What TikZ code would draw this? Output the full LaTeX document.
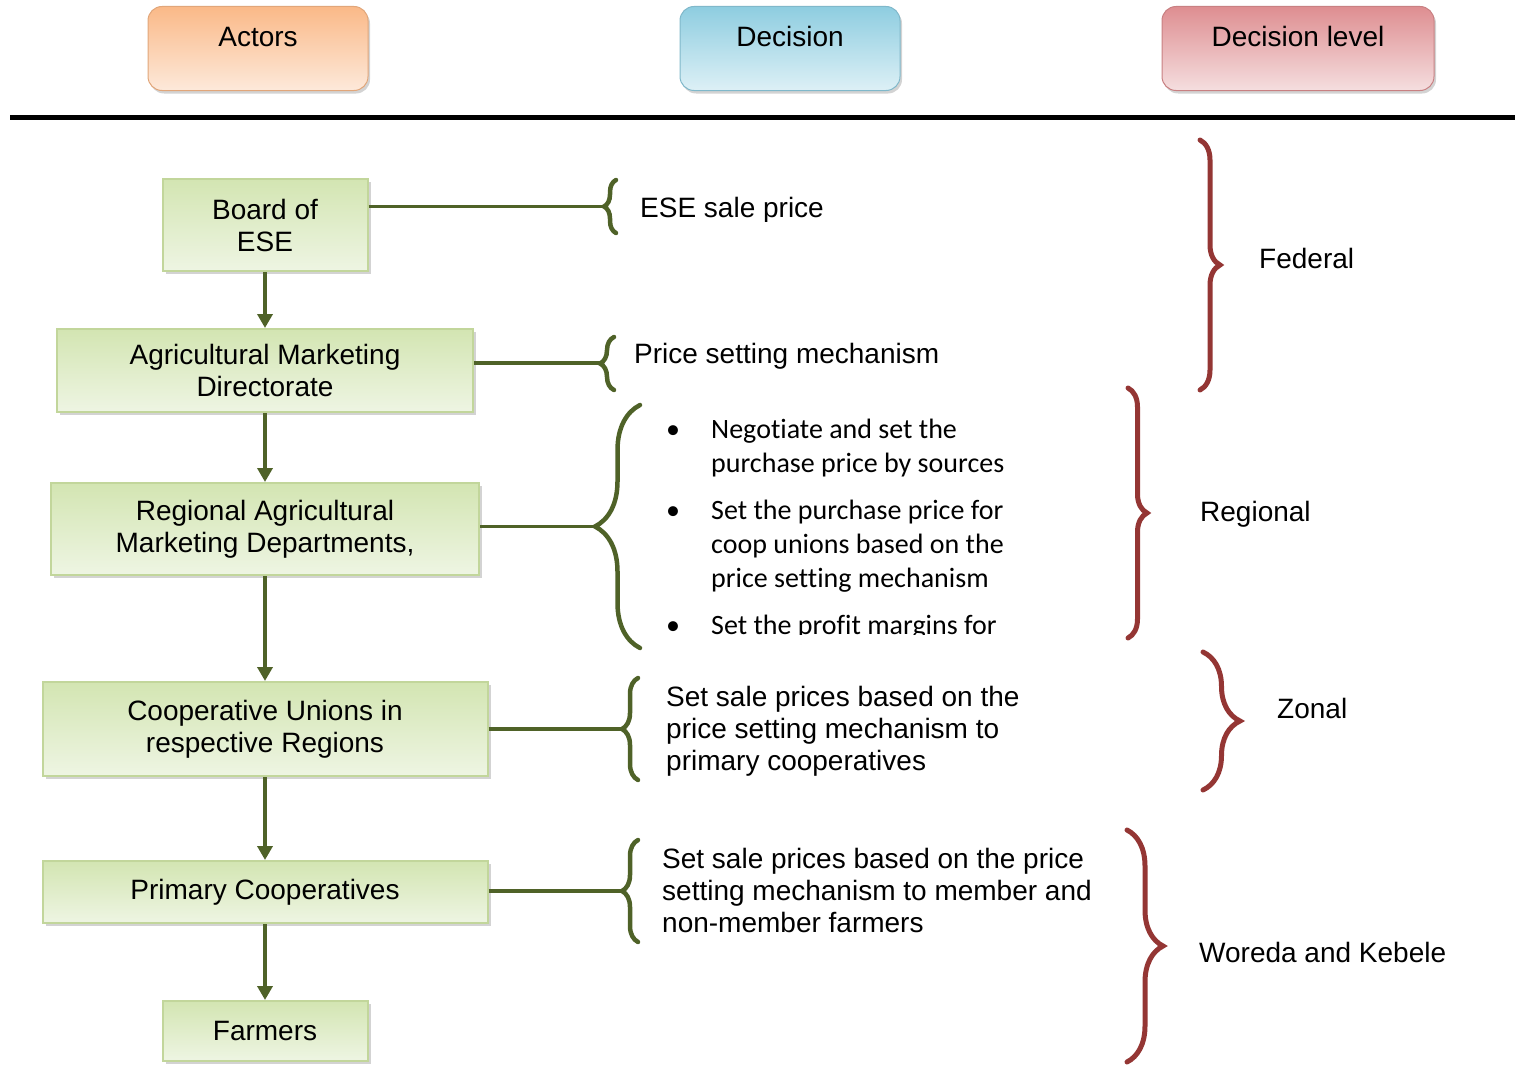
\documentclass[tikz,border=0pt]{standalone}
\usepackage{fontspec}
\setmainfont{Liberation Sans}
\newfontfamily\calfont[Ligatures=NoCommon]{Carlito}
\usetikzlibrary{arrows.meta,decorations.pathreplacing,shadows}
\definecolor{gdark}{HTML}{4F6228}
\definecolor{rdark}{HTML}{943634}
\definecolor{gtop}{HTML}{D3E5B2}
\definecolor{gbot}{HTML}{EEF5E3}
\definecolor{gborder}{HTML}{C2D69B}
\definecolor{otop}{HTML}{FAB988}
\definecolor{obot}{HTML}{FDE9DA}
\definecolor{btop}{HTML}{8ECDE0}
\definecolor{bbot}{HTML}{DDF0F6}
\definecolor{rtop}{HTML}{DE8E91}
\definecolor{rbot}{HTML}{F5DEDF}
\begin{document}
\begin{tikzpicture}[x=1pt,y=1pt,
  txt/.style={font=\fontsize{28}{32}\selectfont, text=black},
  headbox/.style={txt, rounded corners=14pt, draw=#1top!90!black, line width=1pt,
     top color=#1top, bottom color=#1bot, inner xsep=0pt, inner ysep=0pt,
     text height=40pt, text depth=44pt, anchor=north,
     drop shadow={shadow xshift=2pt, shadow yshift=-3pt, opacity=0.35}},
  actor/.style={txt, draw=gborder, line width=2pt, top color=gtop, bottom color=gbot,
     align=center, inner sep=0pt,
     drop shadow={shadow xshift=3pt, shadow yshift=-3pt, opacity=0.35, fill=gray}},
  arr/.style={draw=gdark, line width=3.5pt, -{Triangle[length=14pt,width=15pt]}},
  conn/.style={draw=gdark, line width=3.5pt},
  gbrace/.style={draw=gdark, line width=4.5pt, line cap=round, decorate,
     decoration={brace, amplitude=#1}},
  rbrace/.style={draw=rdark, line width=5pt, line cap=round, decorate,
     decoration={brace, amplitude=#1}},
  plain/.style={txt, anchor=west, inner sep=0pt, align=left}
]
\useasboundingbox (0,0) rectangle (1515,-1065);

% header
\node[headbox=o, minimum width=220pt] (hact) at (258,-6) {Actors};
\node[headbox=b, minimum width=220pt] (hdec) at (790,-6) {Decision};
\node[headbox=r, minimum width=272pt] (hlev) at (1298,-6) {Decision level};
\draw[line width=5pt, black] (10,-117) -- (1515,-117);

% actors
\node[actor, minimum width=205pt, minimum height=92pt] (board) at (265,-225) {Board of\\ESE};
\node[actor, minimum width=416pt, minimum height=83pt] (amd) at (265,-370.5) {Agricultural Marketing\\Directorate};
\node[actor, minimum width=428pt, minimum height=92pt] (ramd) at (265,-529) {Regional Agricultural\\Marketing Departments,};
\node[actor, minimum width=445pt, minimum height=94pt] (cu) at (265,-729) {Cooperative Unions in\\respective Regions};
\node[actor, minimum width=445pt, minimum height=62pt] (pc) at (265,-892) {Primary Cooperatives};
\node[actor, minimum width=205pt, minimum height=60pt] (farm) at (265,-1031) {Farmers};

\draw[arr] (board) -- (amd);
\draw[arr] (amd) -- (ramd);
\draw[arr] (ramd) -- (cu);
\draw[arr] (cu) -- (pc);
\draw[arr] (pc) -- (farm);

% green braces
\coordinate (g1) at (604,-206.5);
\coordinate (g2) at (600,-363);
\coordinate (g3) at (595,-526.5);
\coordinate (g4) at (622,-729);
\coordinate (g5) at (622,-891);
\draw[gbrace=12pt] (616,-233) -- (616,-180);
\draw[gbrace=14pt] (614,-390) -- (614,-337);
\draw[gbrace=45pt] (640,-648) -- (640,-405);
\draw[gbrace=16pt] (638,-780) -- (638,-678);
\draw[gbrace=16pt] (638,-942) -- (638,-840);
\draw[conn] (board.east |- g1) -- (g1);
\draw[conn] (amd.east |- g2) -- (g2);
\draw[conn] (ramd.east |- g3) -- (g3);
\draw[conn] (cu.east |- g4) -- (g4);
\draw[conn] (pc.east |- g5) -- (g5);

% decisions
\begin{scope}
\clip (630,-150) rectangle (900,-221);
\node[plain] (d1) at (640,-210) {ESE sale price};
\end{scope}
\node[plain] (d2) at (634,-356) {Price setting mechanism};
\begin{scope}
\clip (650,-400) rectangle (1100,-634);
\node[anchor=west, inner sep=0pt, font=\calfont\fontsize{28}{34}\selectfont] (d3) at (666,-530)
 {\begin{tabular}{@{}p{45pt}@{}l@{}}
  \textbullet & Negotiate and set the\\
   & purchase price by sources\\[13pt]
  \textbullet & Set the purchase price for\\
   & coop unions based on the\\
   & price setting mechanism\\[13pt]
  \textbullet & Set the profit margins for
  \end{tabular}};
\end{scope}
\node[plain] (d4) at (666,-731) {Set sale prices based on the\\price setting mechanism to\\primary cooperatives};
\node[plain] (d5) at (662,-890) {Set sale prices based on the price\\setting mechanism to member and\\non-member farmers};

% red braces and levels
\draw[rbrace=20pt] (1200,-140) -- (1200,-390);
\draw[rbrace=19pt] (1128,-388) -- (1128,-638);
\draw[rbrace=37pt] (1203,-652) -- (1203,-790);
\draw[rbrace=36pt] (1127,-830) -- (1127,-1062);
\node[plain] (l1) at (1259,-258) {Federal};
\node[plain] (l2) at (1200,-514) {Regional};
\node[plain] (l3) at (1277,-708) {Zonal};
\node[plain] (l4) at (1199,-952) {Woreda and Kebele};
\end{tikzpicture}
\end{document}
